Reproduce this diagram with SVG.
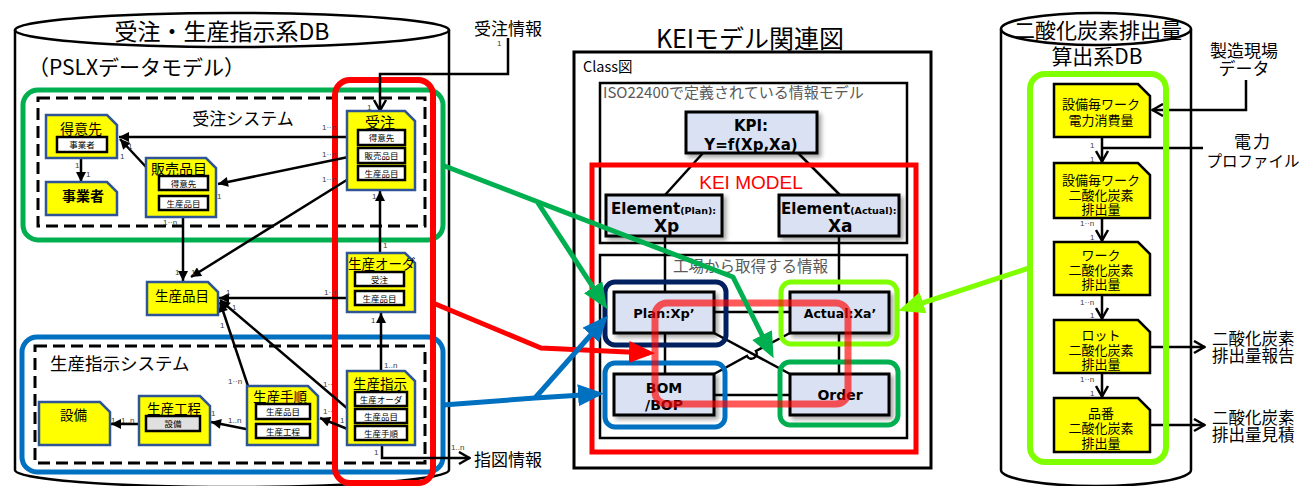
<svg xmlns="http://www.w3.org/2000/svg" width="1303" height="486" viewBox="0 0 1303 486">
<style>
.jp{font-family:"Noto Sans CJK JP","Noto Sans",sans-serif;fill:#000}
.lb{font-family:"Liberation Sans",sans-serif;font-size:8px;fill:#404040}
.yl{fill:#FFFF00;stroke:#2F5597;stroke-width:2.5}
.yr{fill:#FFFF00;stroke:#000;stroke-width:2.5}
.ib{fill:#fff;stroke:#000;stroke-width:2.5}
.it{font-family:"Noto Sans CJK JP",sans-serif;font-size:8.5px;text-anchor:middle;fill:#000}
.cb{fill:#D9E1F2;stroke:#000;stroke-width:3;filter:url(#sh)}
.ct{font-family:"DejaVu Sans",sans-serif;font-weight:bold;fill:#000;text-anchor:middle}
.cs{font-family:"DejaVu Sans",sans-serif;font-weight:bold;fill:#000;text-anchor:start}
.ln{fill:none;stroke:#000;stroke-width:2.5}
.cyl{fill:none;stroke:#000;stroke-width:2.5}
.gt{font-family:"Noto Sans CJK JP",sans-serif;fill:#595959}
.rt{font-family:"Noto Sans CJK JP",sans-serif;font-size:13px;text-anchor:middle;fill:#000}
</style>
<defs>
<filter id="sh" x="-20%" y="-20%" width="150%" height="160%"><feDropShadow dx="3" dy="3" stdDeviation="2" flood-color="#000" flood-opacity="0.35"/></filter>
<marker id="ab" viewBox="0 0 10 10" refX="10" refY="5" markerWidth="11" markerHeight="10" markerUnits="userSpaceOnUse" orient="auto"><path d="M0,0 L10,5 L0,10 Z" fill="#000"/></marker>
<marker id="ao" viewBox="0 0 13 15" refX="12" refY="7.5" markerWidth="13" markerHeight="15" markerUnits="userSpaceOnUse" orient="auto"><path d="M1,1.5 L11.5,7.5 L1,13.5" fill="none" stroke="#000" stroke-width="2.5"/></marker>
<marker id="mg" viewBox="0 0 26 22" refX="20" refY="11" markerWidth="26" markerHeight="22" markerUnits="userSpaceOnUse" orient="auto"><path d="M0,0 L26,11 L0,22 Z" fill="#00B050"/></marker>
<marker id="mr" viewBox="0 0 26 22" refX="20" refY="11" markerWidth="26" markerHeight="24" markerUnits="userSpaceOnUse" orient="auto"><path d="M0,0 L26,11 L0,22 Z" fill="#FF0000"/></marker>
<marker id="mb" viewBox="0 0 26 22" refX="20" refY="11" markerWidth="26" markerHeight="22" markerUnits="userSpaceOnUse" orient="auto"><path d="M0,0 L26,11 L0,22 Z" fill="#0070C0"/></marker>
<marker id="ml" viewBox="0 0 26 22" refX="20" refY="11" markerWidth="26" markerHeight="22" markerUnits="userSpaceOnUse" orient="auto"><path d="M0,0 L26,11 L0,22 Z" fill="#7FFF00"/></marker>
</defs>
<rect width="1303" height="486" fill="#fff"/>

<!-- Left DB cylinder -->
<g id="db-left">
<path class="cyl" d="M15,30 V470 A217,17 0 0 0 449,470 V30"/>
<ellipse class="cyl" cx="232" cy="30" rx="217" ry="17" fill="#fff"/>
<text class="jp" x="222" y="40" font-size="23" text-anchor="middle">受注・生産指示系DB</text>
<text class="jp" x="28" y="75" font-size="21">（PSLXデータモデル）</text>
</g>

<!-- frames -->
<g id="frames-left">
<rect x="23" y="90" width="420" height="150" rx="15" fill="none" stroke="#00B050" stroke-width="5"/>
<rect x="38" y="98" width="387" height="128" fill="none" stroke="#000" stroke-width="3" stroke-dasharray="12,6"/>
<text class="jp" x="243" y="125" font-size="17" text-anchor="middle">受注システム</text>
<rect x="22" y="337" width="421" height="135" rx="15" fill="none" stroke="#0070C0" stroke-width="5"/>
<rect x="35" y="346" width="390" height="117" fill="none" stroke="#000" stroke-width="3" stroke-dasharray="12,6"/>
<text class="jp" x="50" y="370" font-size="17.5">生産指示システム</text>
<rect x="335" y="80" width="98" height="403" rx="15" fill="none" stroke="#FF0000" stroke-width="6"/>
</g>

<!-- connectors (black) -->
<g id="connectors">
<path class="ln" d="M508,38 V74 H380 V111" marker-end="url(#ao)"/>
<line class="ln" x1="358" y1="137" x2="119" y2="137" marker-end="url(#ab)"/>
<line class="ln" x1="358" y1="155" x2="218" y2="184" marker-end="url(#ab)"/>
<line class="ln" x1="358" y1="173" x2="191" y2="277" marker-end="url(#ab)"/>
<line class="ln" x1="160" y1="182" x2="120" y2="139" marker-end="url(#ab)"/>
<line class="ln" x1="183" y1="210" x2="183" y2="281" marker-end="url(#ab)"/>
<line class="ln" x1="81" y1="152" x2="81" y2="182" marker-end="url(#ab)"/>
<line class="ln" x1="380" y1="272" x2="380" y2="191" marker-end="url(#ab)"/>
<line class="ln" x1="355" y1="298" x2="219" y2="298" marker-end="url(#ab)"/>
<line class="ln" x1="381" y1="392" x2="381" y2="313" marker-end="url(#ab)"/>
<line class="ln" x1="355" y1="415" x2="220" y2="300" marker-end="url(#ab)"/>
<line class="ln" x1="256" y1="410" x2="220" y2="302" marker-end="url(#ab)"/>
<line class="ln" x1="355" y1="432" x2="320" y2="418" marker-end="url(#ab)"/>
<line class="ln" x1="256" y1="431" x2="211" y2="422" marker-end="url(#ab)"/>
<line class="ln" x1="146" y1="424" x2="111" y2="424" marker-end="url(#ab)"/>
<path class="ln" d="M382,440 V458 H470" marker-end="url(#ao)"/>
<!-- center model links -->
<line class="ln" x1="703" y1="153" x2="665" y2="195"/>
<line class="ln" x1="798" y1="153" x2="840" y2="195"/>
<line class="ln" x1="665" y1="236" x2="665" y2="374"/>
<line class="ln" x1="839" y1="236" x2="839" y2="374"/>
<line class="ln" x1="714" y1="312" x2="790" y2="312"/>
<line class="ln" x1="714" y1="395" x2="790" y2="395"/>
<line class="ln" x1="714" y1="333" x2="790" y2="374"/>
<path class="ln" d="M714,374 L747,356 A5,5 0 0 0 756,351 L790,333"/>
<!-- right DB links -->
<path class="ln" d="M1246,80 V110 H1152" marker-end="url(#ao)"/>
<line class="ln" x1="1203" y1="148" x2="1102" y2="148"/>
<line class="ln" x1="1102" y1="137" x2="1102" y2="162" marker-end="url(#ao)"/>
<line class="ln" x1="1102" y1="218" x2="1102" y2="241" marker-end="url(#ao)"/>
<line class="ln" x1="1102" y1="295" x2="1102" y2="319" marker-end="url(#ao)"/>
<line class="ln" x1="1102" y1="373" x2="1102" y2="397" marker-end="url(#ao)"/>
<line class="ln" x1="1150" y1="347" x2="1205" y2="347" marker-end="url(#ao)"/>
<line class="ln" x1="1150" y1="425" x2="1205" y2="425" marker-end="url(#ao)"/>
</g>

<!-- multiplicity labels -->
<g id="labels">
<text class="lb" x="497" y="46">1</text>
<text class="lb" x="367" y="110">1</text>
<text class="lb" x="322" y="130">1··n</text>
<text class="lb" x="322" y="157">1··n</text>
<text class="lb" x="322" y="182">1··n</text>
<text class="lb" x="128" y="149">1</text>
<text class="lb" x="120" y="159">1</text>
<text class="lb" x="75" y="168">1</text>
<text class="lb" x="86" y="177">1</text>
<text class="lb" x="217" y="199">1</text>
<text class="lb" x="163" y="225">1··n</text>
<text class="lb" x="372" y="199">1</text>
<text class="lb" x="383" y="248">1</text>
<text class="lb" x="175" y="275">1</text>
<text class="lb" x="191" y="275">1</text>
<text class="lb" x="226" y="295">1</text>
<text class="lb" x="324" y="295">1··n</text>
<text class="lb" x="232" y="310">1</text>
<text class="lb" x="220" y="328">1</text>
<text class="lb" x="371" y="323">1</text>
<text class="lb" x="384" y="368">1..n</text>
<text class="lb" x="228" y="384">1··n</text>
<text class="lb" x="323" y="387">1··</text>
<text class="lb" x="323" y="414">1··</text>
<text class="lb" x="340" y="423">1</text>
<text class="lb" x="211" y="416">1</text>
<text class="lb" x="228" y="423">1..n</text>
<text class="lb" x="111" y="423">1</text>
<text class="lb" x="121" y="423">1..n</text>
<text class="lb" x="374" y="455">1</text>
<text class="lb" x="451" y="450">1..n</text>
<text class="lb" x="1090" y="148">1</text>
<text class="lb" x="1090" y="162">1</text>
<text class="lb" x="1080" y="226">1··n</text>
<text class="lb" x="1090" y="240">1</text>
<text class="lb" x="1080" y="305">1··n</text>
<text class="lb" x="1090" y="318">1</text>
<text class="lb" x="1080" y="382">1··n</text>
<text class="lb" x="1090" y="396">1</text>
</g>

<!-- external texts -->
<g id="ext-texts">
<text class="jp" x="508" y="35" font-size="17" text-anchor="middle">受注情報</text>
<text class="jp" x="508" y="466" font-size="17" text-anchor="middle">指図情報</text>
<text class="jp" font-size="17" text-anchor="middle"><tspan x="1244" y="57">製造現場</tspan><tspan x="1244" y="75">データ</tspan></text>
<text class="jp" text-anchor="middle"><tspan x="1253" y="148" font-size="17" letter-spacing="2">電力</tspan><tspan x="1253" y="167" font-size="15.5">プロファイル</tspan></text>
<text class="jp" font-size="16.5"><tspan x="1212" y="345">二酸化炭素</tspan><tspan x="1212" y="362">排出量報告</tspan></text>
<text class="jp" font-size="16.5"><tspan x="1212" y="424">二酸化炭素</tspan><tspan x="1212" y="441">排出量見積</tspan></text>
</g>

<!-- left nodes -->
<g id="n-tokuisaki">
<path class="yl" d="M46,115 H107 L117,125 V158 H46 Z"/>
<text class="jp" x="60" y="134" font-size="14">得意先</text>
<rect class="ib" x="57" y="137" width="50" height="15"/><text class="it" x="82" y="148">事業者</text>
</g>
<g id="n-jigyosha">
<path class="yl" d="M46,182 H107 L117,192 V215 H46 Z"/>
<text class="jp" x="62" y="201" font-size="14" font-weight="bold">事業者</text>
</g>
<g id="n-hanbai">
<path class="yl" d="M146,158 H206 L216,168 V217 H146 Z"/>
<text class="jp" x="151" y="174" font-size="14">販売品目</text>
<rect class="ib" x="159" y="176" width="49" height="14"/><text class="it" x="183.5" y="186.5">得意先</text>
<rect class="ib" x="159" y="196" width="49" height="14"/><text class="it" x="183.5" y="206.5">生産品目</text>
</g>
<g id="n-juchu">
<path class="yl" d="M347,111 H405 L415,121 V190 H347 Z"/>
<text class="jp" x="380" y="128" font-size="15" text-anchor="middle">受注</text>
<rect class="ib" x="358" y="130" width="47" height="15"/><text class="it" x="381.5" y="141">得意先</text>
<rect class="ib" x="358" y="148" width="47" height="15"/><text class="it" x="381.5" y="159">販売品目</text>
<rect class="ib" x="358" y="166" width="47" height="14"/><text class="it" x="381.5" y="176.5">生産品目</text>
</g>
<g id="n-seisanhinmoku">
<path class="yl" d="M147,282 H208 L218,292 V315 H147 Z"/>
<text class="jp" x="155" y="301" font-size="13.5">生産品目</text>
</g>
<g id="n-order">
<path class="yl" d="M347,253 H405 L415,263 V312 H347 Z"/>
<text class="jp" x="348" y="269" font-size="13.5">生産オーダ</text>
<rect class="ib" x="355" y="272" width="49" height="14"/><text class="it" x="379.5" y="282.5">受注</text>
<rect class="ib" x="355" y="291" width="49" height="14"/><text class="it" x="379.5" y="301.5">生産品目</text>
</g>
<g id="n-setsubi">
<path class="yl" d="M39,402 H100 L110,412 V445 H39 Z"/>
<text class="jp" x="60" y="420" font-size="13.5">設備</text>
</g>
<g id="n-kotei">
<path class="yl" d="M139,396 H200 L210,406 V445 H139 Z"/>
<text class="jp" x="147" y="414" font-size="13.5">生産工程</text>
<rect x="146" y="416" width="54" height="15" fill="#E0E0E0" stroke="#000" stroke-width="2.5"/><text class="it" x="173" y="427">設備</text>
</g>
<g id="n-tejun">
<path class="yl" d="M247,386 H308 L318,396 V445 H247 Z"/>
<text class="jp" x="253" y="402" font-size="13.5">生産手順</text>
<rect class="ib" x="256" y="404" width="54" height="15"/><text class="it" x="283" y="415">生産品目</text>
<rect class="ib" x="256" y="424" width="54" height="14"/><text class="it" x="283" y="434.5">生産工程</text>
</g>
<g id="n-shiji">
<path class="yl" d="M347,371 H405 L415,381 V445 H347 Z"/>
<text class="jp" x="353" y="389" font-size="13.5">生産指示</text>
<rect class="ib" x="355" y="392" width="52" height="14"/><text class="it" x="381" y="402.5">生産オーダ</text>
<rect class="ib" x="355" y="409" width="52" height="14"/><text class="it" x="381" y="419.5">生産品目</text>
<rect class="ib" x="355" y="426" width="52" height="14"/><text class="it" x="381" y="436.5">生産手順</text>
</g>

<!-- center -->
<g id="kei-frame">
<text class="jp" x="750" y="48" font-size="25" text-anchor="middle">KEIモデル関連図</text>
<rect x="574" y="52" width="357" height="416" fill="none" stroke="#000" stroke-width="3"/>
<text class="jp" x="583" y="72" font-size="14.5">Class図</text>
<rect x="600" y="83" width="307" height="160" fill="none" stroke="#000" stroke-width="2.5"/>
<text class="gt" x="603" y="98" font-size="15">ISO22400で定義されている情報モデル</text>
<rect x="592" y="165" width="324" height="287" fill="none" stroke="#FF0000" stroke-width="5"/>
<text x="751" y="189" font-family="Liberation Sans,sans-serif" font-size="19" fill="#FF0000" text-anchor="middle">KEI MODEL</text>
<rect x="600" y="255" width="307" height="183" fill="none" stroke="#000" stroke-width="2.5"/>
<text class="gt" x="673" y="272" font-size="15.5">工場から取得する情報</text>
</g>
<g id="n-kpi">
<rect class="cb" x="686" y="112" width="131" height="41"/>
<text class="ct" font-size="15"><tspan x="751" y="131">KPI:</tspan><tspan x="751" y="150">Y=f(Xp,Xa)</tspan></text>
</g>
<g id="n-elem-plan">
<rect class="cb" x="606" y="195" width="116" height="41"/>
<text class="cs" font-size="15"><tspan x="611" y="214">Element</tspan><tspan font-size="9.5">(Plan):</tspan><tspan x="654" y="232" font-size="17">Xp</tspan></text>
</g>
<g id="n-elem-actual">
<rect class="cb" x="779" y="195" width="120" height="41"/>
<text class="cs" font-size="15"><tspan x="781" y="214">Element</tspan><tspan font-size="9.5">(Actual):</tspan><tspan x="828" y="232" font-size="17">Xa</tspan></text>
</g>
<g id="n-plan">
<rect class="cb" x="614" y="292" width="100" height="41"/>
<text class="ct" x="664" y="318" font-size="13">Plan:Xp’</text>
</g>
<g id="n-actual">
<rect class="cb" x="790" y="292" width="99" height="41"/>
<text class="ct" x="840" y="318" font-size="12.5">Actual:Xa’</text>
</g>
<g id="n-bom">
<rect class="cb" x="614" y="374" width="100" height="41"/>
<text class="ct" font-size="14"><tspan x="664" y="393">BOM</tspan><tspan x="664" y="410">/BOP</tspan></text>
</g>
<g id="n-orderc">
<rect class="cb" x="790" y="374" width="99" height="41"/>
<text class="ct" x="840" y="400" font-size="14">Order</text>
</g>
<g id="highlights">
<rect x="605" y="282" width="121" height="63" rx="10" fill="none" stroke="#002060" stroke-width="5"/>
<rect x="781" y="282" width="116" height="62" rx="10" fill="none" stroke="#7FFF00" stroke-width="5"/>
<rect x="605" y="363" width="120" height="64" rx="10" fill="none" stroke="#0070C0" stroke-width="5"/>
<rect x="780" y="362" width="118" height="63" rx="10" fill="none" stroke="#00B050" stroke-width="5"/>
<rect x="655" y="303" width="193" height="101" rx="12" fill="none" stroke="#FF0000" stroke-opacity="0.65" stroke-width="7"/>
</g>

<!-- Right DB cylinder -->
<g id="db-right">
<path class="cyl" d="M1001,29 V470 A95,16 0 0 0 1191,470 V29"/>
<ellipse class="cyl" cx="1096" cy="29" rx="95" ry="16" fill="#fff"/>
<text class="jp" font-size="21" text-anchor="middle"><tspan x="1098" y="38">二酸化炭素排出量</tspan><tspan x="1097" y="64">算出系DB</tspan></text>
<rect x="1030" y="74" width="136" height="388" rx="15" fill="none" stroke="#7FFF00" stroke-width="6"/>
</g>
<g id="r-n1">
<path class="yr" d="M1054,84 H1138 L1150,96 V137 H1054 Z"/>
<text class="rt"><tspan x="1101" y="109">設備毎ワーク</tspan><tspan x="1101" y="125">電力消費量</tspan></text>
</g>
<g id="r-n2">
<path class="yr" d="M1054,163 H1138 L1150,175 V218 H1054 Z"/>
<text class="rt"><tspan x="1101" y="185">設備毎ワーク</tspan><tspan x="1101" y="200">二酸化炭素</tspan><tspan x="1101" y="214">排出量</tspan></text>
</g>
<g id="r-n3">
<path class="yr" d="M1054,242 H1138 L1150,254 V295 H1054 Z"/>
<text class="rt"><tspan x="1101" y="260">ワーク</tspan><tspan x="1101" y="275">二酸化炭素</tspan><tspan x="1101" y="289">排出量</tspan></text>
</g>
<g id="r-n4">
<path class="yr" d="M1054,320 H1138 L1150,332 V373 H1054 Z"/>
<text class="rt"><tspan x="1101" y="340">ロット</tspan><tspan x="1101" y="355">二酸化炭素</tspan><tspan x="1101" y="369">排出量</tspan></text>
</g>
<g id="r-n5">
<path class="yr" d="M1054,398 H1138 L1150,410 V452 H1054 Z"/>
<text class="rt"><tspan x="1101" y="418">品番</tspan><tspan x="1101" y="433">二酸化炭素</tspan><tspan x="1101" y="448">排出量</tspan></text>
</g>

<!-- colored mapping arrows -->
<g id="mapping-connectors" fill="none" stroke-width="5" stroke-linejoin="round">
<path d="M442,165 L733,277 L771,353" stroke="#00B050" marker-end="url(#mg)"/>
<path d="M538,203 L604,304" stroke="#00B050" marker-end="url(#mg)"/>
<path d="M433,303 L541,348 L649,353" stroke="#FF0000" marker-end="url(#mr)"/>
<path d="M443,405 L535,398 L598,394" stroke="#0070C0" marker-end="url(#mb)"/>
<path d="M535,398 L604,320" stroke="#0070C0" marker-end="url(#mb)"/>
<path d="M1029,268 L904,309" stroke="#7FFF00" marker-end="url(#ml)"/>
</g>
</svg>
